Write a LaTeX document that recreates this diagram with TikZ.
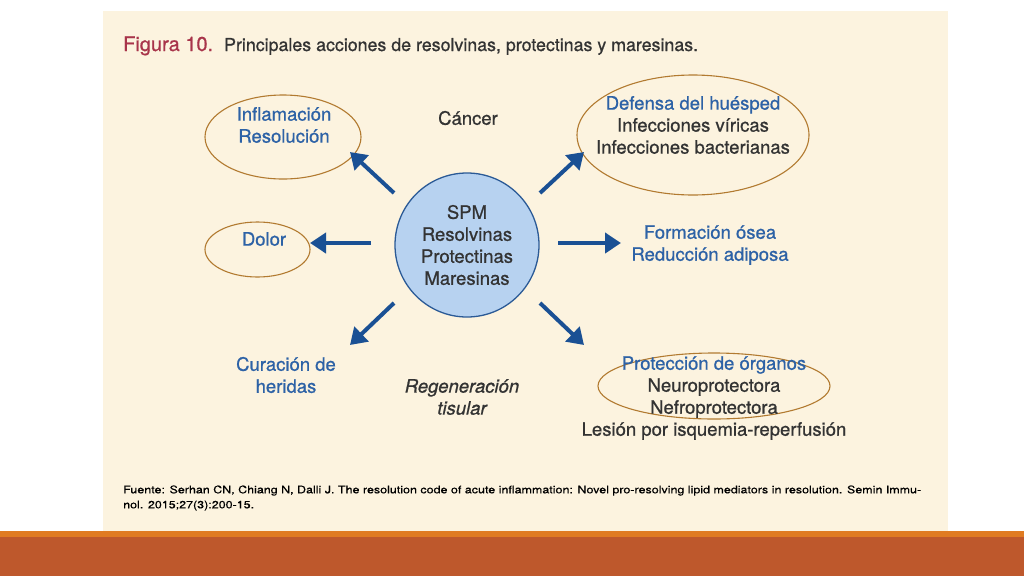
\documentclass[tikz,border=0pt]{standalone}
\usepackage{fontspec}
\setmainfont{TeX Gyre Heros}[FakeBold=0.8]
\newfontfamily\plainfont{TeX Gyre Heros}[FakeBold=0.3]
\usetikzlibrary{arrows.meta,shapes.geometric}
\definecolor{panel}{HTML}{FCF3DF}
\definecolor{oline}{HTML}{E07B22}
\definecolor{band}{HTML}{BE582C}
\definecolor{titlered}{HTML}{A8344A}
\definecolor{darktext}{HTML}{333333}
\definecolor{bluetext}{HTML}{2D62A6}
\definecolor{arrowblue}{HTML}{1A5094}
\definecolor{circfill}{HTML}{B7D2F0}
\definecolor{circline}{HTML}{2B5A96}
\definecolor{ringcol}{HTML}{B27A30}
\definecolor{foottext}{HTML}{555555}
\newsavebox{\footA}
\newsavebox{\footB}
\sbox{\footA}{\plainfont\fontsize{10.5}{12}\selectfont Fuente: Serhan CN, Chiang N, Dalli J. The resolution code of acute inflammation: Novel pro-resolving lipid mediators in resolution. Semin Immu-}
\sbox{\footB}{\plainfont\fontsize{10.5}{12}\selectfont nol. 2015;27(3):200-15.}
\begin{document}
\begin{tikzpicture}[x=1pt,y=-1pt,
  lbl/.style={align=center,inner sep=0pt,font=\fontsize{18.5}{22}\selectfont},
  bluelbl/.style={lbl,text=bluetext},
  darklbl/.style={lbl,text=darktext},
  ring/.style={draw=ringcol,line width=1.1pt,ellipse,inner sep=0pt},
  arr/.style={draw=arrowblue,line width=4pt,-{Triangle[length=16pt,width=20pt]}}]
\useasboundingbox (0,0) rectangle (1024,576);
\fill[white] (0,0) rectangle (1024,576);
\fill[panel] (103,11) rectangle (948,532);
\fill[oline] (0,531) rectangle (1024,538);
\fill[band] (0,537) rectangle (1024,576);
% title
\node[anchor=base west,inner sep=0pt] (title) at (123,51)
  {\fontsize{20}{24}\selectfont\color{titlered}Figura 10.\hspace{11pt}\fontsize{17.8}{22}\selectfont\color{darktext}Principales acciones de resolvinas, protectinas y maresinas.};
% ellipses
\node[ring,minimum width=156pt,minimum height=84pt] (ringinf) at (283,137) {};
\node[ring,minimum width=232pt,minimum height=120pt] (ringdef) at (693,135) {};
\node[ring,minimum width=105pt,minimum height=55pt] (ringdol) at (257.5,249.5) {};
\node[ring,minimum width=232pt,minimum height=66pt] (ringpro) at (714,386) {};
% centre
\node[circle,draw=circline,line width=1.3pt,fill=circfill,minimum size=144pt,inner sep=0pt,
  align=center,text=darktext,font=\fontsize{18.5}{22}\selectfont] (spm) at (467,245)
  {SPM\\Resolvinas\\Protectinas\\Maresinas};
% labels
\node[bluelbl] (inf) at (284,125) {Inflamación\\Resolución};
\node[darklbl] (cancer) at (468,118) {Cáncer};
\node[lbl] (def) at (693,125) {\textcolor{bluetext}{Defensa del huésped}\\\textcolor{darktext}{Infecciones víricas}\\\textcolor{darktext}{Infecciones bacterianas}};
\node[bluelbl] (dolor) at (264,239) {Dolor};
\node[bluelbl] (osea) at (710,245) {Formación ósea\\Reducción adiposa};
\node[bluelbl] (cur) at (286,375) {Curación de\\heridas};
\node[darklbl,font=\fontsize{18.5}{22}\selectfont\itshape] (regen) at (462,397) {Regeneración\\tisular};
\node[lbl] (prot) at (714,398) {\textcolor{bluetext}{Protección de órganos}\\\textcolor{darktext}{Neuroprotectora}\\\textcolor{darktext}{Nefroprotectora}\\\textcolor{darktext}{Lesión por isquemia-reperfusión}};
% arrow ends
\coordinate (aULs) at (394,193); \coordinate (aULe) at (350,152);
\coordinate (aURs) at (540,193); \coordinate (aURe) at (584,152);
\coordinate (aLs) at (371,243);  \coordinate (aLe) at (310,243);
\coordinate (aRs) at (558,243);  \coordinate (aRe) at (621,243);
\coordinate (aDLs) at (394,303); \coordinate (aDLe) at (350,345);
\coordinate (aDRs) at (540,303); \coordinate (aDRe) at (584,345);
\draw[arr] (aULs) -- (aULe);
\draw[arr] (aURs) -- (aURe);
\draw[arr] (aLs) -- (aLe);
\draw[arr] (aRs) -- (aRe);
\draw[arr] (aDLs) -- (aDLe);
\draw[arr] (aDRs) -- (aDRe);
% footer
\pgfmathsetmacro{\fsx}{798/\the\wd\footA}
\node[anchor=base west,inner sep=0pt,text=foottext] (foot1) at (123,493.3) {\scalebox{\fsx}[1]{\usebox{\footA}}};
\node[anchor=base west,inner sep=0pt,text=foottext] (foot2) at (123,508.3) {\scalebox{\fsx}[1]{\usebox{\footB}}};
\end{tikzpicture}
\end{document}
